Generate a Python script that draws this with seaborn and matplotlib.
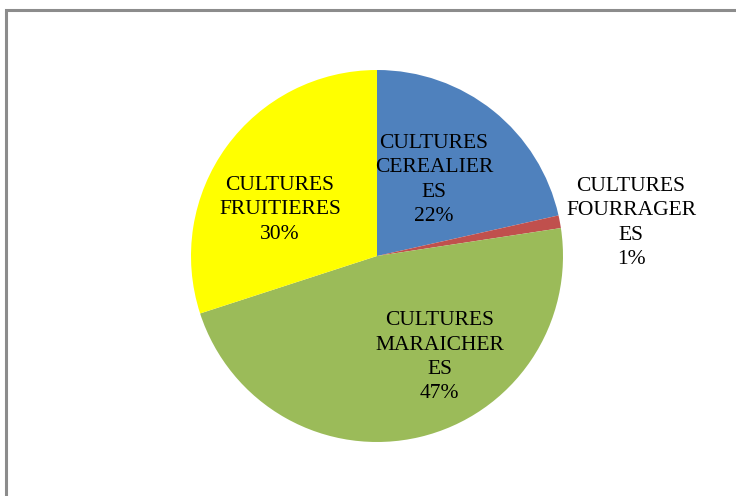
import matplotlib
matplotlib.use("Agg")
import matplotlib.pyplot as plt
from matplotlib.patches import Rectangle
import seaborn as sns

# data
categories = ["CULTURES\nCEREALIER\nES", "CULTURES\nFOURRAGER\nES",
              "CULTURES\nMARAICHER\nES", "CULTURES\nFRUITIERES"]
shares = [21.5, 1.1, 47.4, 30.0]
colors = ["#4F81BD", "#C0504D", "#9BBB59", "#FFFF00"]

# label centres, in axes fraction (pie fills the axes)
label_pos = [(0.653, 0.704), (1.183, 0.589), (0.669, 0.228), (0.239, 0.624)]

sns.set_style("white")
plt.rcParams['font.family'] = ['Liberation Serif', 'DejaVu Serif']

fig = plt.figure(figsize=(7.36, 4.96), dpi=100)

# grey frame, only top and left visible (rest cut off)
fig.patches.append(Rectangle((6.5 / 736, -0.2), 1.5, 1.2 - 9.5 / 496,
                             transform=fig.transFigure, fill=False,
                             edgecolor="#8c8c8c", linewidth=2.2))

ax = fig.add_axes([191 / 736, 54 / 496, 372 / 736, 372 / 496])
wedges, _ = ax.pie(shares, colors=colors, startangle=90, counterclock=False,
                   radius=1.0, wedgeprops=dict(linewidth=0))
ax.set_xlim(-1, 1)
ax.set_ylim(-1, 1)
ax.set_aspect("equal")
ax.axis("off")

for cat, val, (lx, ly) in zip(categories, shares, label_pos):
    ax.text(lx, ly, "%s\n%.0f%%" % (cat, val), transform=ax.transAxes,
            ha="center", va="center", fontsize=15.5, linespacing=1.38,
            color="black")

fig.savefig("out.png", dpi=100)
